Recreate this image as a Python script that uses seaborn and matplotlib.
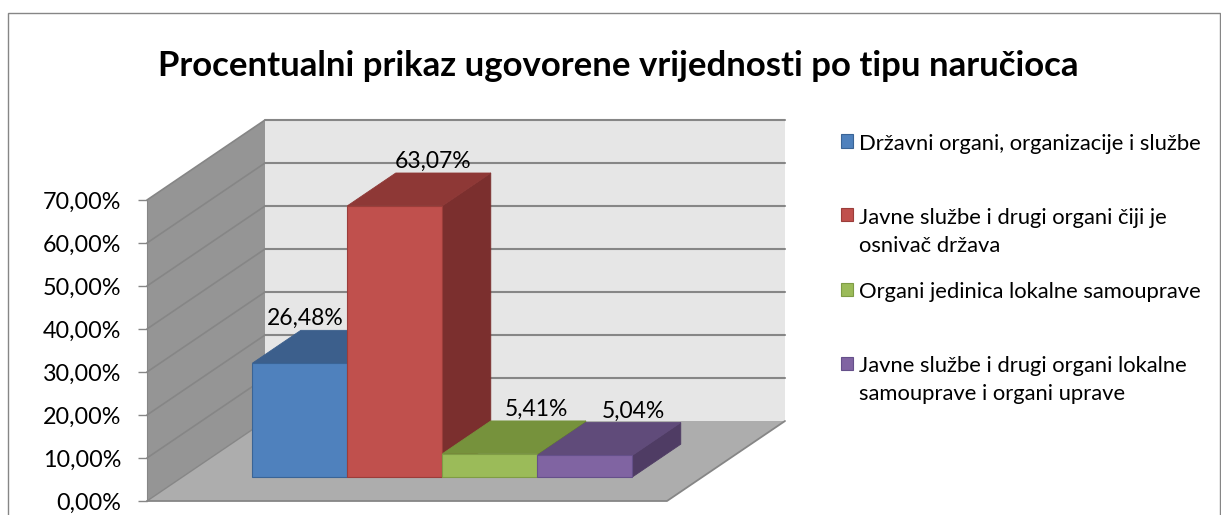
import matplotlib
matplotlib.use("Agg")
import matplotlib.pyplot as plt
import seaborn as sns
import pandas as pd
from matplotlib.patches import Polygon, Rectangle
from matplotlib.transforms import Affine2D
from matplotlib.ticker import FuncFormatter

# ── Podaci ────────────────────────────────────────────────────
TITLE = "Procentualni prikaz ugovorene vrijednosti po tipu naručioca"
CATEGORIES = [
    "Državni organi, organizacije i službe",
    "Javne službe i drugi organi čiji je\nosnivač država",
    "Organi jedinica lokalne samouprave",
    "Javne službe i drugi organi lokalne\nsamouprave i organi uprave",
]
VALUES = [26.48, 63.07, 5.41, 5.04]
Y_TICKS = [0, 10, 20, 30, 40, 50, 60, 70]

# ── Stil ──────────────────────────────────────────────────────
FRONT = ["#4F81BD", "#C0504D", "#9BBB59", "#8064A2"]
TOP   = ["#3C5F8C", "#8E3836", "#76923C", "#604B7A"]
SIDE  = ["#2F4C70", "#7B2F2E", "#627A32", "#4F3C64"]
EDGE  = ["#3A6496", "#9B3D3A", "#7F9C45", "#65508A"]

BACK_WALL = "#E6E6E6"
LEFT_WALL = "#959595"
FLOOR     = "#ADADAD"
GRID      = "#868686"

sns.set_style("white")
plt.rcParams["font.family"] = ["Lato", "DejaVu Sans"]
plt.rcParams["text.color"] = "black"
plt.rcParams["ytick.color"] = "black"

W, H = 1221, 515
fig = plt.figure(figsize=(W / 100, H / 100), dpi=100)
ax = fig.add_axes([147 / W, (H - 501) / H, 520 / W, 301 / H])

XLIM = (-1.237, 4.237)
YMAX = Y_TICKS[-1]
px_x = 520 / (XLIM[1] - XLIM[0])
px_y = 301 / YMAX
DX, DY = 118 / px_x, 80 / px_y      # puna dubina (zidovi)
F0, FD = 0.30, 0.41                 # pocetak i dubina stubaca

# ── Stupci (prednje strane) ──────────────────────────────────
df = pd.DataFrame({"tip": CATEGORIES, "udio": VALUES})
sns.barplot(data=df, x="tip", y="udio", hue="tip", palette=FRONT,
            saturation=1, width=1.0, errorbar=None, legend=False, ax=ax)
bars = sorted(ax.patches, key=lambda p: p.get_x())

# ── Zidovi i pod ─────────────────────────────────────────────
x0, x1 = XLIM
walls = [
    ([(x0 + DX, DY), (x1 + DX, DY), (x1 + DX, YMAX + DY), (x0 + DX, YMAX + DY)], BACK_WALL),
    ([(x0, 0), (x0 + DX, DY), (x0 + DX, YMAX + DY), (x0, YMAX)], LEFT_WALL),
    ([(x0, 0), (x1, 0), (x1 + DX, DY), (x0 + DX, DY)], FLOOR),
]
for pts, col in walls:
    ax.add_patch(Polygon(pts, closed=True, facecolor=col, edgecolor="none",
                         zorder=0, clip_on=False))

for v in Y_TICKS[1:]:
    ax.plot([x0 + DX, x1 + DX], [v + DY] * 2, color=GRID, lw=1.5, zorder=1, clip_on=False)
    ax.plot([x0, x0 + DX], [v, v + DY], color=GRID, lw=1.2, zorder=1, clip_on=False)
ax.plot([x0, x1, x1 + DX], [0, 0, DY], color=GRID, lw=1.3, zorder=1, clip_on=False)
ax.plot([x0, x0 + DX], [0, DY], color=GRID, lw=1.0, zorder=1, clip_on=False)

# ── 3D stupci: bok, vrh, prednja strana ──────────────────────
shift = Affine2D().translate(F0 * DX, F0 * DY) + ax.transData
dx, dy = FD * DX, FD * DY
LABEL_NUDGE_PX = [-43, -10, -2, 0]
for i, p in enumerate(bars):
    bx = p.get_x() + F0 * DX
    w, h = p.get_width(), p.get_height()
    by0, bt = F0 * DY, h + F0 * DY
    z = 5 + 3 * i
    side = [(bx + w, by0), (bx + w + dx, by0 + dy), (bx + w + dx, bt + dy), (bx + w, bt)]
    top = [(bx, bt), (bx + w, bt), (bx + w + dx, bt + dy), (bx + dx, bt + dy)]
    ax.add_patch(Polygon(side, closed=True, facecolor=SIDE[i], edgecolor=SIDE[i],
                         lw=0.6, zorder=z, clip_on=False))
    ax.add_patch(Polygon(top, closed=True, facecolor=TOP[i], edgecolor=TOP[i],
                         lw=0.6, zorder=z + 1, clip_on=False))
    p.set_transform(shift)
    p.set_zorder(z + 2)
    p.set_edgecolor(EDGE[i])
    p.set_linewidth(0.8)
    p.set_clip_on(False)
    ax.annotate(f"{VALUES[i]:.2f}%".replace(".", ","),
                xy=(bx + w / 2 + dx, bt + dy),
                xytext=(LABEL_NUDGE_PX[i] * 0.72, 5 * 0.72), textcoords="offset points",
                ha="center", va="baseline", fontsize=16.5, zorder=30,
                annotation_clip=False)

# ── Osovine ──────────────────────────────────────────────────
ax.set_xlim(*XLIM)
ax.set_ylim(0, YMAX)
ax.patch.set_visible(False)
for s in ["top", "right", "bottom"]:
    ax.spines[s].set_visible(False)
ax.spines["left"].set_color(GRID)
ax.spines["left"].set_zorder(2)
ax.set_xticks([])
ax.set_xlabel("")
ax.set_ylabel("")
ax.set_yticks(Y_TICKS)
ax.yaxis.set_major_formatter(FuncFormatter(lambda v, _: f"{v:.2f}%".replace(".", ",")))
ax.tick_params(axis="y", length=6.3, width=1, color=GRID, pad=12.2,
               labelsize=16.8, left=True)

# ── Naslov ───────────────────────────────────────────────────
fig.text(618 / W, 1 - 76 / H, TITLE, ha="center", va="baseline",
         fontsize=25, fontweight="bold")

# ── Legenda (prvi red svake stavke poravnat s kvadratom) ─────
for i, lab in enumerate(CATEGORIES):
    yc = 141 + 74 * i
    fig.add_artist(Rectangle((841 / W, 1 - (yc + 6.5) / H), 12 / W, 13 / H,
                             transform=fig.transFigure, facecolor=FRONT[i],
                             edgecolor=EDGE[i], lw=0.8))
    fig.text(859 / W, 1 - (yc - 7.5) / H, lab, ha="left", va="top",
             fontsize=15.8, linespacing=1.55)

fig.add_artist(Rectangle((8 / W, -0.05), (1219.5 - 8) / W, 1 - 13 / H + 0.05,
                         transform=fig.transFigure, fill=False,
                         edgecolor="#868686", lw=1))

fig.savefig("out.png", dpi=100)
